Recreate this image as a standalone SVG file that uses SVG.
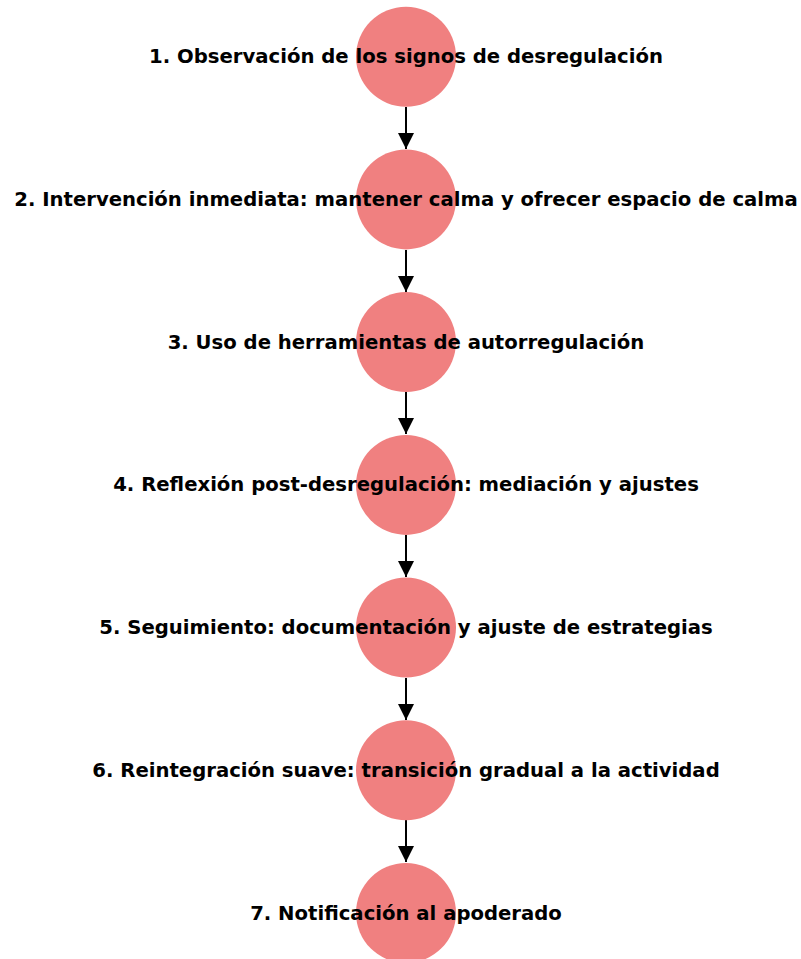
<svg xmlns="http://www.w3.org/2000/svg" width="801" height="959" viewBox="0 0 801 959">
<style>
.n{fill:#F08080}
.t{font-family:"DejaVu Sans",sans-serif;font-weight:bold;font-size:19.65px;fill:#000;text-anchor:middle;dominant-baseline:central}
.e{stroke:#000;stroke-width:2;fill:none;marker-end:url(#ah)}
</style>
<defs>
<marker id="ah" markerUnits="userSpaceOnUse" markerWidth="16" markerHeight="17" refX="16" refY="8" orient="auto" viewBox="0 0 16 16">
<path d="M0,0 L16,8 L0,16 Z" fill="#000"/>
</marker>
</defs>
<rect width="801" height="959" fill="#fff"/>
<g id="edges">
<line class="e" x1="406" y1="107" x2="406" y2="149"/>
<line class="e" x1="406" y1="250" x2="406" y2="292"/>
<line class="e" x1="406" y1="392" x2="406" y2="434"/>
<line class="e" x1="406" y1="535" x2="406" y2="577"/>
<line class="e" x1="406" y1="678" x2="406" y2="720"/>
<line class="e" x1="406" y1="820" x2="406" y2="862"/>
</g>
<g id="n1"><circle class="n" cx="406" cy="56.7" r="50"/><text class="t" x="406" y="56.7">1. Observación de los signos de desregulación</text></g>
<g id="n2"><circle class="n" cx="406" cy="199.4" r="50"/><text class="t" x="406" y="199.4">2. Intervención inmediata: mantener calma y ofrecer espacio de calma</text></g>
<g id="n3"><circle class="n" cx="406" cy="342.1" r="50"/><text class="t" x="406" y="342.1">3. Uso de herramientas de autorregulación</text></g>
<g id="n4"><circle class="n" cx="406" cy="484.9" r="50"/><text class="t" x="406" y="484.9">4. Reflexión post-desregulación: mediación y ajustes</text></g>
<g id="n5"><circle class="n" cx="406" cy="627.6" r="50"/><text class="t" x="406" y="627.6">5. Seguimiento: documentación y ajuste de estrategias</text></g>
<g id="n6"><circle class="n" cx="406" cy="770.3" r="50"/><text class="t" x="406" y="770.3">6. Reintegración suave: transición gradual a la actividad</text></g>
<g id="n7"><circle class="n" cx="406" cy="913" r="50"/><text class="t" x="406" y="913">7. Notificación al apoderado</text></g>
</svg>
